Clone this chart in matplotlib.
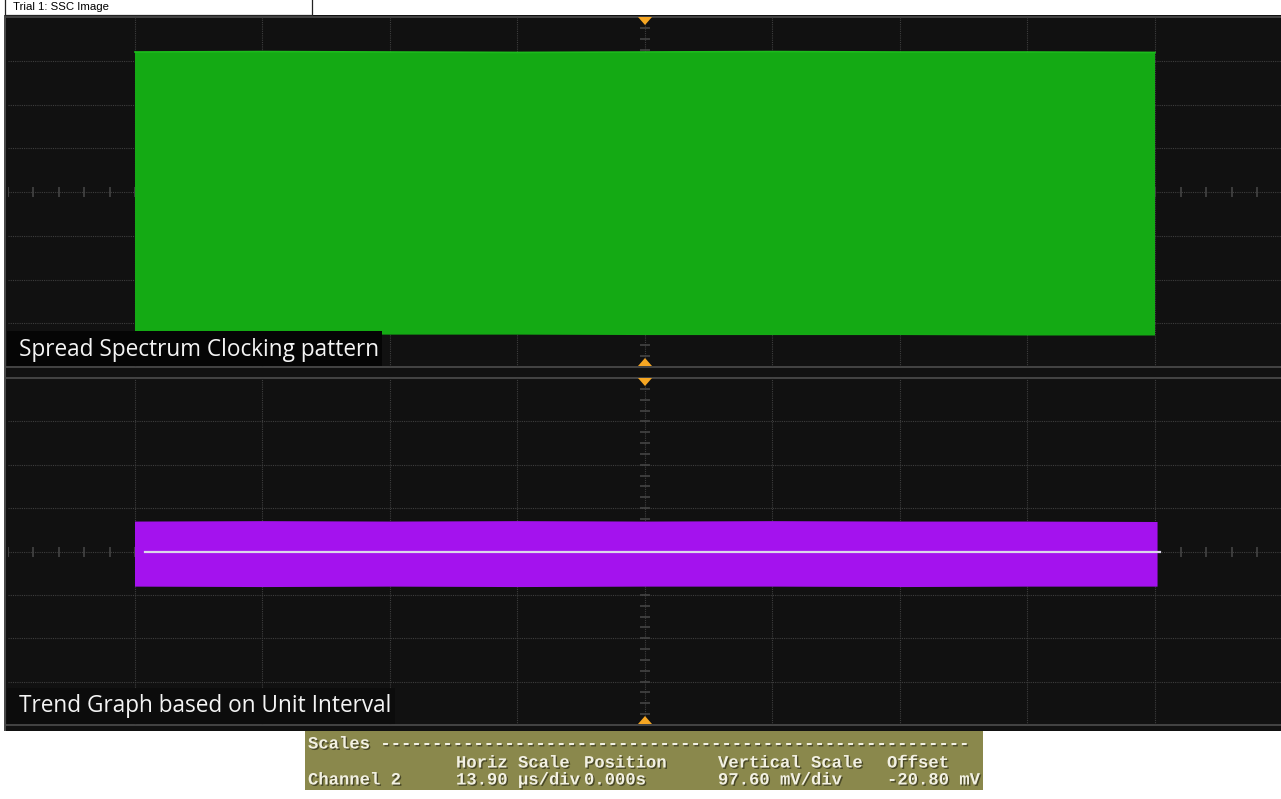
import numpy as np
import matplotlib
matplotlib.use("Agg")
import matplotlib.pyplot as plt
import matplotlib.patheffects as pe
from matplotlib.patches import Rectangle, Polygon

# --- data (units: divisions) ---
green_x = [-4, -3, -2, -1, 0, 1, 2, 3, 4]
green_top = [3.20, 3.21, 3.20, 3.19, 3.20, 3.21, 3.20, 3.20, 3.19]
green_bot = [-3.24, -3.25, -3.26, -3.26, -3.27, -3.27, -3.27, -3.28, -3.28]

trend_x = [-4, -3, -2, -1, 0, 1, 2, 3, 4.02]
trend_top = [0.69, 0.70, 0.69, 0.70, 0.69, 0.70, 0.69, 0.69, 0.68]
trend_bot = [-0.81, -0.82, -0.81, -0.82, -0.81, -0.81, -0.82, -0.81, -0.81]

ui_x = [-3.92, 4.04]
ui_y = [0.0, 0.0]

panel_labels = ["Spread Spectrum Clocking pattern", "Trend Graph based on Unit Interval"]
title_text = "Trial 1: SSC Image"
scale_header = ["Horiz Scale", "Position", "Vertical Scale", "Offset"]
scale_row = ["Channel 2", "13.90 \u00b5s/div", "0.000s", "97.60 mV/div", "-20.80 mV"]

W, H = 1281, 799
fig = plt.figure(figsize=(W / 100, H / 100), dpi=100, facecolor="white")


def fx(px):
    return px / W


def fy(py):
    return 1 - py / H


def pixel_axes():
    a = fig.add_axes([0, 0, 1, 1])
    a.set_xlim(0, W)
    a.set_ylim(H, 0)
    a.set_facecolor("none")
    a.axis("off")
    return a


# screen background
bg = pixel_axes()
bg.add_patch(Rectangle((5, 15), W - 5, 716, facecolor="#111111", edgecolor="none"))
bg.add_patch(Rectangle((4, 15), 2, 716, facecolor="#4a4a4a", edgecolor="none"))
for yy in (16.5, 366.5, 377.5, 724.5):
    bg.plot([6, W], [yy, yy], color="#444444", lw=1.4, solid_capstyle="butt")

# title box
bg.add_patch(Rectangle((5, -2), 307, 16.5, facecolor="white", edgecolor="#222222", lw=0.9))
bg.text(13, 6.5, title_text, fontsize=8.2, family="Liberation Sans", va="center", ha="left", color="black")

# scales box
bg.add_patch(Rectangle((305, 731), 678, 59, facecolor="#8a884c", edgecolor="none"))
mono = dict(family="Liberation Mono", fontsize=12.4, fontweight="bold", color="#f2f0e2", va="center",
            path_effects=[pe.withSimplePatchShadow(offset=(1, -1), shadow_rgbFace="#202010", alpha=0.6)])
bg.text(308, 744, "Scales " + "-" * 57, **mono)
for txt, xx in zip(scale_header, [456, 584, 718, 887]):
    bg.text(xx, 763, txt, **mono)
for txt, xx in zip(scale_row, [308, 456, 584, 718, 887]):
    bg.text(xx, 780, txt, **mono)


def panel(top_px, bot_px):
    ax = fig.add_axes([fx(7.5), fy(bot_px), 1275 / W, (bot_px - top_px) / H])
    ax.set_xlim(-5, 5)
    ax.set_ylim(-4, 4)
    ax.set_facecolor("none")
    ax.axis("off")
    gcol = "#3e3e3e"
    for v in range(-4, 5):
        ax.axvline(v, color=gcol, lw=0.8, ls=(0, (1, 1)), zorder=1)
    for h in range(-3, 4):
        ax.axhline(h, color=gcol, lw=0.8, ls=(0, (1, 1)), zorder=1)
    # minor ticks on the centre lines
    sx = np.arange(-5, 5.01, 0.2)
    sy = np.arange(-4, 4.01, 0.25)
    ax.plot(sx, np.zeros_like(sx), ls="none", marker="|", ms=7, mew=1.2, color="#444444", zorder=1)
    ax.plot(np.zeros_like(sy), sy, ls="none", marker="_", ms=7, mew=1.2, color="#444444", zorder=1)
    return ax


ax1 = panel(17, 367)
ax2 = panel(378, 725)

ax1.fill_between(green_x, green_bot, green_top, facecolor="#14aa14", edgecolor="none", zorder=3)
ax1.plot(green_x, green_top, color="#1dbb1d", lw=1.2, zorder=3)

ax2.fill_between(trend_x, trend_bot, trend_top, facecolor="#a412ee", edgecolor="none", zorder=3)
ax2.plot(ui_x, ui_y, color="#dcd6ea", lw=1.6, zorder=4)

# overlay: labels and trigger markers
fg = pixel_axes()
lab = dict(fontsize=16.3, family="Open Sans", color="#f4f4f4", ha="left", va="center")
fg.add_patch(Rectangle((7, 331), 375, 35, facecolor="#050505", edgecolor="none"))
fg.add_patch(Rectangle((7, 688), 388, 36, facecolor="#0c0c0c", edgecolor="none"))
fg.text(19, 349.5, panel_labels[0], **lab)
fg.text(19, 706.5, panel_labels[1], **lab)

orange = "#f5a623"
for yb, d in ((17, 1), (366, -1), (378, 1), (724, -1)):
    fg.add_patch(Polygon([(638, yb), (652, yb), (645, yb + 8 * d)], closed=True,
                         facecolor=orange, edgecolor="none"))

fig.savefig("out.png", dpi=100, facecolor="white")
